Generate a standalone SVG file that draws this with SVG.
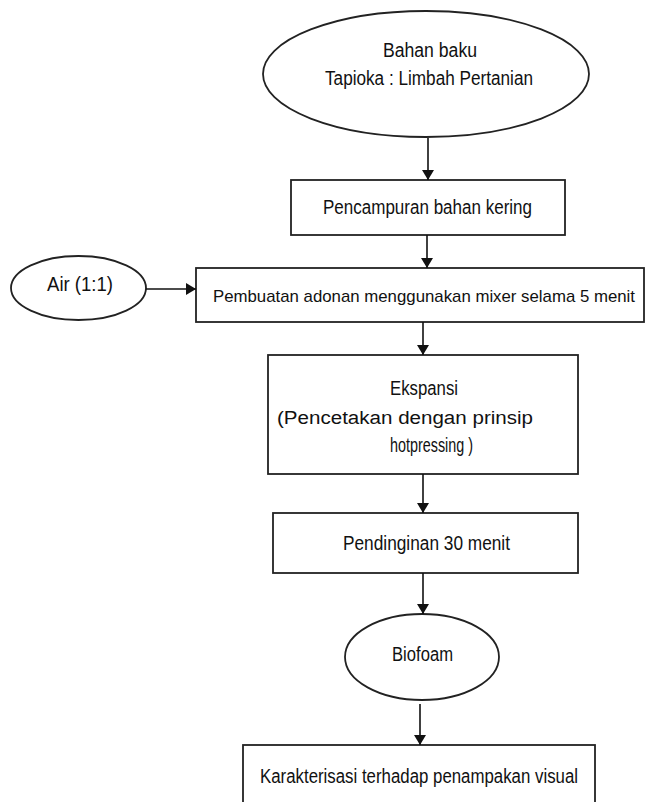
<svg xmlns="http://www.w3.org/2000/svg" width="649" height="802" viewBox="0 0 649 802">
<style>
.shape{fill:#fff;stroke:#222;stroke-width:1.8}
.lbl{font-family:"Liberation Sans",Arial,sans-serif;font-size:20px;fill:#111}
.lbl.s17{font-size:17px}
.lbl.s18{font-size:18px}
.conn{stroke:#111;stroke-width:1.6;fill:none;marker-end:url(#arr)}
</style>
<defs>
<marker id="arr" viewBox="0 0 10 12" refX="10" refY="6" markerWidth="10" markerHeight="12" markerUnits="userSpaceOnUse" orient="auto">
<path d="M0,0 L10,6 L0,12 Z" fill="#111"/>
</marker>
</defs>
<rect width="649" height="802" fill="#fff"/>
<g id="n-bahan">
<ellipse class="shape" cx="426" cy="74" rx="163" ry="63"/>
<text class="lbl" x="383" y="57" textLength="94" lengthAdjust="spacingAndGlyphs">Bahan baku</text>
<text class="lbl" x="325" y="85" textLength="208" lengthAdjust="spacingAndGlyphs">Tapioka : Limbah Pertanian</text>
</g>
<g id="n-pencampuran">
<rect class="shape" x="291" y="180" width="274" height="55"/>
<text class="lbl" x="323" y="214" textLength="209" lengthAdjust="spacingAndGlyphs">Pencampuran bahan kering</text>
</g>
<g id="n-air">
<ellipse class="shape" cx="78.5" cy="288" rx="67.5" ry="32"/>
<text class="lbl" x="47" y="291" textLength="66" lengthAdjust="spacingAndGlyphs">Air (1:1)</text>
</g>
<g id="n-adonan">
<rect class="shape" x="196" y="268" width="448" height="54"/>
<text class="lbl s17" x="213" y="302" textLength="422" lengthAdjust="spacingAndGlyphs">Pembuatan adonan menggunakan mixer selama 5 menit</text>
</g>
<g id="n-ekspansi">
<rect class="shape" x="268" y="355" width="310" height="119"/>
<text class="lbl" x="390" y="395" textLength="68" lengthAdjust="spacingAndGlyphs">Ekspansi</text>
<text class="lbl s18" x="277" y="424" textLength="256" lengthAdjust="spacingAndGlyphs">(Pencetakan dengan prinsip</text>
<text class="lbl" x="390" y="452" textLength="83" lengthAdjust="spacingAndGlyphs">hotpressing )</text>
</g>
<g id="n-pendinginan">
<rect class="shape" x="273" y="513" width="305" height="60"/>
<text class="lbl" x="343" y="550" textLength="167" lengthAdjust="spacingAndGlyphs">Pendinginan 30 menit</text>
</g>
<g id="n-biofoam">
<ellipse class="shape" cx="422" cy="657" rx="77" ry="43"/>
<text class="lbl" x="392" y="661" textLength="61" lengthAdjust="spacingAndGlyphs">Biofoam</text>
</g>
<g id="n-karakterisasi">
<rect class="shape" x="243" y="745" width="352" height="70"/>
<text class="lbl" x="260" y="783" textLength="318" lengthAdjust="spacingAndGlyphs">Karakterisasi terhadap penampakan visual</text>
</g>
<g id="connectors">
<line class="conn" x1="428" y1="138" x2="428" y2="180"/>
<line class="conn" x1="427" y1="235" x2="427" y2="268"/>
<line class="conn" x1="146" y1="289" x2="196" y2="289"/>
<line class="conn" x1="423" y1="322" x2="423" y2="355"/>
<line class="conn" x1="423" y1="474" x2="423" y2="513"/>
<line class="conn" x1="423" y1="573" x2="423" y2="614"/>
<line class="conn" x1="420" y1="704" x2="420" y2="745"/>
</g>
</svg>
